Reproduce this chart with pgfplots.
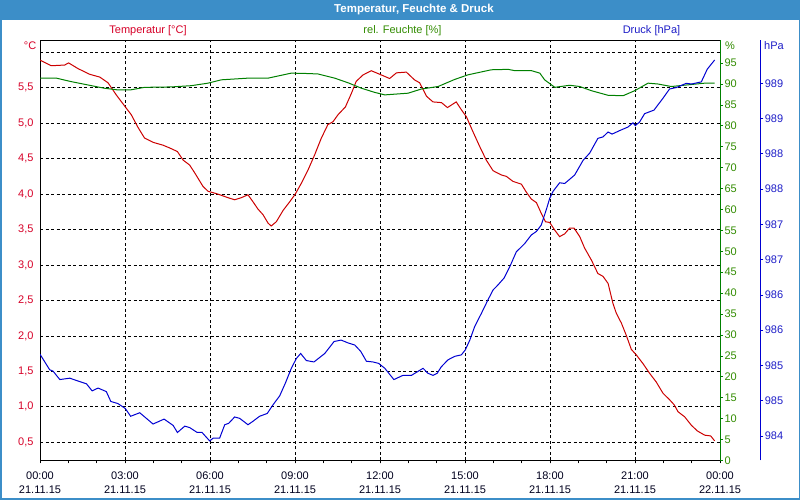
\documentclass[border=0pt]{standalone}
\usepackage{pgfplots}
\pgfplotsset{compat=1.18}
\usepackage{fontspec}
\setmainfont{Liberation Sans}
\definecolor{tred}{RGB}{204,0,0}
\definecolor{tredlab}{RGB}{215,0,40}
\definecolor{hgreen}{RGB}{0,128,0}
\definecolor{hgreenlab}{RGB}{50,140,0}
\definecolor{pblue}{RGB}{0,0,210}
\definecolor{pbluelab}{RGB}{30,30,200}
\definecolor{barblue}{RGB}{60,142,200}
\definecolor{txt}{RGB}{0,0,30}
\newcommand\lf{\fontsize{11}{15.7}\selectfont}
\newcommand\xlf{\fontsize{11}{14}\selectfont}
\pgfplotsset{base/.style={scale only axis, width=680pt, height=420pt, xmin=0, xmax=24,
  at={(40pt,39.5pt)}, anchor=south west, /pgf/number format/assume math mode=true}}
\begin{document}
\begin{tikzpicture}[x=1pt,y=1pt]
\fill[white] (0,0) rectangle (800,500);
\fill[barblue] (0,479.5) rectangle (800,500);
\draw[barblue,line width=1.5pt] (0.75,0.75) rectangle (799.25,499.25);
\node[white,font=\bfseries\fontsize{11.5}{13}\selectfont] at (414,490) {Temperatur, Feuchte \& Druck};
\node[tredlab,font=\lf] at (148,469) {Temperatur [°C]};
\node[hgreenlab,font=\lf] at (402.5,469) {rel. Feuchte [\%]};
\node[pbluelab,font=\lf] at (651.5,469) {Druck [hPa]};
\node[tredlab,font=\lf,anchor=east,inner sep=0] at (36.5,454) {°C};
\node[hgreenlab,font=\lf,anchor=west,inner sep=0] at (725,454) {\%};
\node[pbluelab,font=\lf,anchor=west,inner sep=0] at (764,454) {hPa};

% temperature axis
\begin{axis}[base, ymin=0.243, ymax=6.166,
  axis line style={black, line width=1pt},
  xtick={0,3,...,24}, minor xtick={1,2,...,23},
  xticklabels={{00:00\\21.11.15},{03:00\\21.11.15},{06:00\\21.11.15},{09:00\\21.11.15},{12:00\\21.11.15},{15:00\\21.11.15},{18:00\\21.11.15},{21:00\\21.11.15},{00:00\\22.11.15}},
  xticklabel style={align=center, font=\xlf, text=txt, yshift=-5pt},
  tick align=outside, xtick pos=left, ytick pos=left,
  major tick length=3pt, minor tick length=3pt,
  every x tick/.style={black, line width=0.8pt},
  every y tick/.style={draw=none},
  ytick={0.5,1.0,1.5,2.0,2.5,3.0,3.5,4.0,4.5,5.0,5.5,6.0},
  yticklabels={{0,5},{1,0},{1,5},{2,0},{2,5},{3,0},{3,5},{4,0},{4,5},{5,0},{5,5},{}},
  yticklabel style={text=tredlab, font=\lf},
  xmajorgrids, ymajorgrids,
  major grid style={black, dash pattern=on 3pt off 2.5pt, line width=0.8pt},
]
\addplot[tred, line width=1pt] coordinates {(0,5.89)(0.40,5.81)(0.87,5.82)(1.01,5.85)(1.34,5.77)(1.75,5.69)(2.11,5.65)(2.40,5.57)(2.69,5.40)(3.01,5.23)(3.22,5.12)(3.46,4.94)(3.69,4.79)(3.99,4.73)(4.34,4.69)(4.58,4.65)(4.85,4.60)(5.05,4.48)(5.28,4.41)(5.46,4.30)(5.75,4.11)(5.93,4.04)(6.28,4.00)(6.63,3.95)(6.87,3.92)(7.11,3.95)(7.34,3.99)(7.52,3.89)(7.69,3.79)(7.87,3.71)(8.05,3.59)(8.16,3.55)(8.34,3.61)(8.58,3.77)(8.81,3.89)(9.01,4.00)(9.22,4.15)(9.46,4.34)(9.69,4.55)(9.93,4.79)(10.16,4.98)(10.34,5.02)(10.52,5.12)(10.78,5.23)(10.99,5.42)(11.16,5.59)(11.40,5.68)(11.69,5.74)(11.93,5.70)(12.34,5.63)(12.58,5.71)(12.93,5.72)(13.22,5.61)(13.40,5.57)(13.64,5.38)(13.87,5.30)(14.17,5.29)(14.38,5.22)(14.69,5.30)(14.87,5.19)(15.05,5.09)(15.28,4.88)(15.52,4.67)(15.75,4.48)(15.99,4.33)(16.28,4.27)(16.46,4.25)(16.69,4.18)(16.99,4.14)(17.16,4.03)(17.34,3.93)(17.52,3.88)(17.69,3.73)(17.84,3.61)(17.99,3.60)(18.17,3.49)(18.34,3.40)(18.52,3.44)(18.69,3.52)(18.85,3.52)(19.05,3.40)(19.22,3.24)(19.46,3.07)(19.69,2.88)(19.87,2.84)(20.05,2.74)(20.22,2.46)(20.34,2.32)(20.52,2.18)(20.69,2.01)(20.87,1.81)(21.05,1.73)(21.28,1.61)(21.52,1.47)(21.75,1.35)(21.99,1.19)(22.22,1.10)(22.38,1.03)(22.52,0.93)(22.75,0.86)(22.99,0.74)(23.20,0.66)(23.46,0.60)(23.67,0.59)(23.81,0.52)};
\end{axis}

% humidity axis
\begin{axis}[base, ymin=0, ymax=100.4,
  axis x line=none, axis y line*=right,
  y axis line style={hgreen, line width=1pt, -},
  ytick={0,5,...,95},
  tick align=outside, major tick length=3pt,
  every y tick/.style={hgreen, line width=0.8pt},
  yticklabel style={text=hgreenlab, font=\lf, xshift=-2pt},
]
\addplot[hgreen, line width=1pt] coordinates {(0,91.4)(0.58,91.4)(1.08,90.6)(1.67,89.8)(2.26,89.0)(2.73,88.6)(3.2,88.6)(3.69,89.2)(4.64,89.3)(5.34,89.6)(5.93,90.2)(6.40,91.0)(7.34,91.4)(8.05,91.4)(8.87,92.6)(9.46,92.5)(9.81,92.4)(10.40,91.4)(10.87,90.3)(11.34,89.0)(11.81,88.0)(12.17,87.4)(12.99,87.8)(13.46,88.8)(14.05,89.4)(14.64,91.1)(15.11,92.2)(15.93,93.4)(16.52,93.5)(16.75,93.2)(17.34,93.2)(17.64,92.6)(17.81,91.0)(18.17,89.2)(18.69,89.7)(19.05,89.4)(19.46,88.4)(20.05,87.3)(20.58,87.2)(20.99,88.4)(21.46,90.2)(21.81,90.0)(22.28,89.4)(22.87,89.8)(23.46,90.2)(23.81,90.2)};
\end{axis}

% pressure data
\begin{axis}[base, ymin=983.653, ymax=989.607, hide axis]
\addplot[pblue, line width=1pt] coordinates {(0,985.16)(0.34,984.94)(0.46,984.92)(0.70,984.80)(1.05,984.82)(1.34,984.78)(1.64,984.74)(1.84,984.64)(2.05,984.68)(2.34,984.63)(2.50,984.49)(2.75,984.46)(3.01,984.39)(3.20,984.28)(3.52,984.33)(3.99,984.17)(4.38,984.24)(4.70,984.15)(4.85,984.05)(5.11,984.14)(5.28,984.12)(5.55,984.05)(5.72,984.05)(5.99,983.93)(6.11,983.97)(6.34,983.97)(6.52,984.16)(6.66,984.18)(6.87,984.27)(7.05,984.25)(7.34,984.16)(7.52,984.21)(7.75,984.28)(8.02,984.32)(8.22,984.44)(8.46,984.57)(8.66,984.75)(8.87,984.96)(9.05,985.10)(9.20,985.17)(9.40,985.07)(9.67,985.05)(10.05,985.17)(10.38,985.34)(10.63,985.36)(10.87,985.32)(11.11,985.29)(11.32,985.20)(11.52,985.06)(11.75,985.05)(11.95,985.03)(12.17,984.96)(12.49,984.80)(12.81,984.86)(13.11,984.86)(13.52,984.96)(13.69,984.89)(13.87,984.86)(14.02,984.89)(14.16,984.98)(14.40,985.08)(14.64,985.13)(14.87,985.15)(15.01,985.22)(15.17,985.36)(15.34,985.55)(15.58,985.74)(15.81,985.93)(15.99,986.07)(16.16,986.14)(16.38,986.24)(16.58,986.40)(16.81,986.61)(17.11,986.73)(17.34,986.85)(17.52,986.90)(17.69,986.99)(17.87,987.21)(17.99,987.37)(18.11,987.47)(18.34,987.59)(18.52,987.58)(18.87,987.70)(19.17,987.91)(19.40,988.01)(19.69,988.22)(19.87,988.24)(20.05,988.31)(20.19,988.28)(20.46,988.33)(20.75,988.38)(20.93,988.44)(21.01,988.40)(21.16,988.45)(21.34,988.57)(21.67,988.62)(21.99,988.79)(22.22,988.92)(22.46,988.94)(22.81,989.00)(22.99,988.99)(23.34,989.02)(23.55,989.20)(23.81,989.33)};
\end{axis}

% pressure axis
\begin{axis}[scale only axis, width=1pt, height=420pt, at={(759.3pt,39.5pt)}, anchor=south west,
  xmin=0, xmax=1, ymin=983.653, ymax=989.607,
  axis x line=none, axis y line*=right,
  y axis line style={pblue, line width=1pt, -},
  ytick={984,984.5,985,985.5,986,986.5,987,987.5,988,988.5,989},
  yticklabels={984,985,985,986,986,987,987,988,988,989,989},
  tick align=outside, major tick length=3pt,
  every y tick/.style={pblue, line width=0.8pt},
  yticklabel style={text=pbluelab, font=\lf, xshift=-2pt},
]
\end{axis}
\end{tikzpicture}
\end{document}
